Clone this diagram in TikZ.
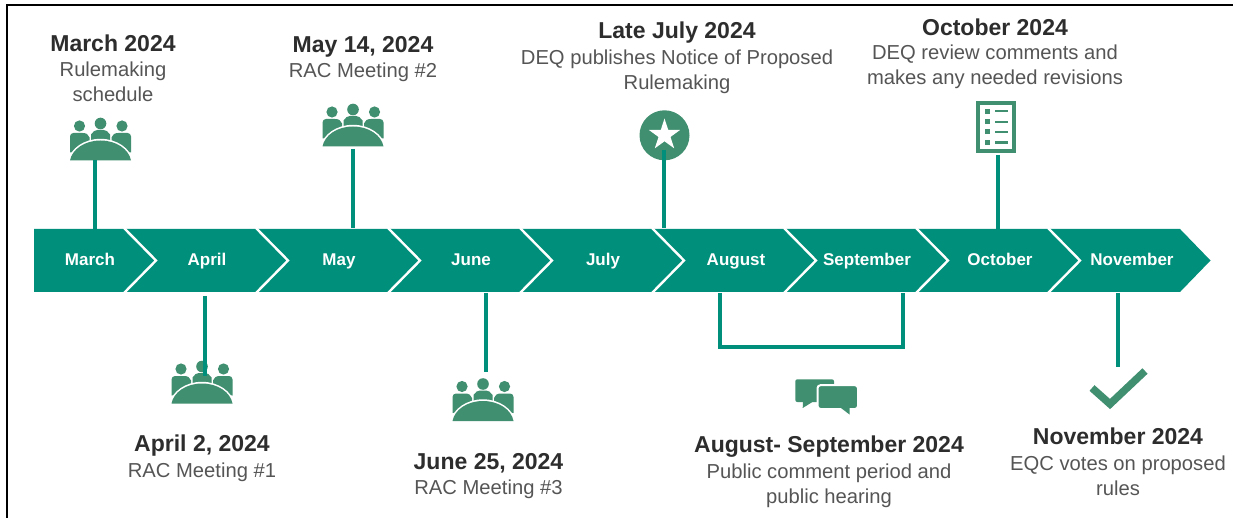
\documentclass[tikz,border=0pt]{standalone}
\usepackage{fontspec}
\setmainfont{Liberation Sans}
\usetikzlibrary{shapes.geometric}
\definecolor{barcol}{RGB}{0,143,122}
\definecolor{iconcol}{RGB}{64,143,112}
\definecolor{titlecol}{RGB}{45,45,45}
\definecolor{bodycol}{RGB}{85,85,85}
\tikzset{
  x=1pt,y=-1pt,
  titletext/.style={font=\bfseries\fontsize{23}{26}\selectfont,text=titlecol,inner sep=0pt},
  bodytext/.style={font=\fontsize{20.2}{25}\selectfont,text=bodycol,align=center,inner sep=0pt},
  monthtext/.style={font=\bfseries\fontsize{17}{20}\selectfont,text=white,inner sep=0pt,anchor=base},
  stem/.style={draw=barcol,line width=4.2pt},
  iconfill/.style={fill=iconcol,draw=none},
  sep/.style={draw=white,line width=2.4pt,line join=miter},
  meeting/.pic={
    \fill[iconfill] (-21,-34.5) circle (5.6);
    \fill[iconfill] (0,-37) circle (5.8);
    \fill[iconfill] (21.5,-34.5) circle (5.6);
    \fill[iconfill] (-30.5,-8) -- (-30.5,-24) .. controls (-30.5,-26) and (-29,-27.5) .. (-27,-27.5)
       -- (-18,-27.5) .. controls (-14,-27.5) and (-12,-26) .. (-11,-23) -- (-11,-10) -- cycle;
    \fill[iconfill] (30.5,-8) -- (30.5,-24) .. controls (30.5,-26) and (29,-27.5) .. (27,-27.5)
       -- (18,-27.5) .. controls (14,-27.5) and (12,-26) .. (11,-23) -- (11,-10) -- cycle;
    \fill[iconfill] (-9.5,-20) -- (-9.5,-26) .. controls (-8,-29) and (-5,-30.5) .. (-3,-30.5) -- (3,-30.5)
       .. controls (5,-30.5) and (8,-29) .. (9.5,-26) -- (9.5,-20) -- cycle;
    \path[fill=white,draw=white,line width=2.4pt] (-31,0) .. controls (-29,-11) and (-16,-20.5) .. (0,-20.5)
       .. controls (16,-20.5) and (29,-11) .. (31,0) -- cycle;
    \fill[iconfill] (-30.5,0) .. controls (-28.5,-11) and (-16,-20) .. (0,-20)
       .. controls (16,-20) and (28.5,-11) .. (30.5,0) -- cycle;
  }
}
\begin{document}
\begin{tikzpicture}
\useasboundingbox (0,0) rectangle (1233,518);
\fill[white] (0,0) rectangle (1233,518);
% frame
\draw[black,line width=2.4pt] (1233,5) -- (7,5) -- (7,518);

% named anchors
\coordinate (barTL) at (34,229);
\coordinate (barTR) at (1180,229);
\coordinate (barTip) at (1210.5,260.5);
\coordinate (barBR) at (1180,292);
\coordinate (barBL) at (34,292);

% ribbon
\fill[barcol] (barTL) -- (barTR) -- (barTip) -- (barBR) -- (barBL) -- cycle;
\foreach \t in {156,288,420,552,684,816,948,1080}{
  \draw[sep] (\t-32,228) -- (\t,260.5) -- (\t-32,293);
}

% month labels
\node[monthtext] (mMar) at (90,266) {March};
\node[monthtext] (mApr) at (207,266) {April};
\node[monthtext] (mMay) at (339,266) {May};
\node[monthtext] (mJun) at (471,266) {June};
\node[monthtext] (mJul) at (603,266) {July};
\node[monthtext] (mAug) at (736,266) {August};
\node[monthtext] (mSep) at (867,266) {September};
\node[monthtext] (mOct) at (1000,266) {October};
\node[monthtext] (mNov) at (1132,266) {November};

% icons
\pic at (100.5,160.5) {meeting};
\pic at (353,146.5) {meeting};
\pic at (202,403.5) {meeting};
\pic at (483,421) {meeting};

\node[circle,fill=iconcol,minimum size=50pt,inner sep=0pt] (starDisc) at (664.5,135.3) {};
\node[star,star points=5,star point ratio=2.618,fill=white,minimum size=33pt,inner sep=0pt] (starMark) at (664.5,135) {};

\node[rectangle,draw=iconcol,line width=4pt,fill=white,minimum width=36.5pt,minimum height=48.5pt,inner sep=0pt] (docBox) at (996,127) {};
\foreach \yy in {111.3,122,132,142.5}{
  \fill[iconfill] (984.5,\yy-2.5) rectangle (989.5,\yy+2.5);
  \fill[iconfill] (994.5,\yy-1.1) rectangle (1007.5,\yy+1.1);
}

% speech bubbles
\fill[iconfill,rounded corners=2pt] (795.3,379.3) rectangle (834,402);
\fill[iconfill] (803,401) -- (802.7,408) -- (814,401) -- cycle;
\path[fill=iconcol,draw=white,line width=2pt,rounded corners=3pt] (817.5,385.2) rectangle (858,409);
\fill[iconfill] (841,408) -- (849.5,414.5) -- (849.5,408) -- cycle;

% check mark
\coordinate (chkA) at (1092,388);
\coordinate (chkB) at (1110,404);
\coordinate (chkC) at (1145,371);
\draw[iconcol,line width=7.5pt,line join=miter] (chkA) -- (chkB) -- (chkC);

% connectors
\coordinate (sMarA) at (95,160);  \coordinate (sMarB) at (95,229);
\coordinate (sMayA) at (353,149); \coordinate (sMayB) at (353,228);
\coordinate (sJulA) at (664,150); \coordinate (sJulB) at (664,228);
\coordinate (sOctA) at (998,155); \coordinate (sOctB) at (998,229);
\coordinate (sAprA) at (205,296); \coordinate (sAprB) at (205,376);
\coordinate (sJunA) at (486,293); \coordinate (sJunB) at (486,372);
\coordinate (sNovA) at (1118,293);\coordinate (sNovB) at (1118,367);
\coordinate (brL) at (720,293);   \coordinate (brLL) at (720,347);
\coordinate (brRR) at (903,347);  \coordinate (brR) at (903,293);
\draw[stem] (sMarA) -- (sMarB);
\draw[stem] (sMayA) -- (sMayB);
\draw[stem] (sJulA) -- (sJulB);
\draw[stem] (sOctA) -- (sOctB);
\draw[stem] (sAprA) -- (sAprB);
\draw[stem] (sJunA) -- (sJunB);
\draw[stem] (sNovA) -- (sNovB);
\draw[stem,line join=miter] (brL) -- (brLL) -- (brRR) -- (brR);

% texts
\node[titletext] (t1) at (113,43.5) {March 2024};
\node[bodytext] (b1) at (113,82) {Rulemaking\\schedule};
\node[titletext] (t2) at (363,47) {May 14, 2024};
\node[bodytext] (b2) at (363,72.5) {RAC Meeting \#2};
\node[titletext] (t3) at (677,33) {Late July 2024};
\node[bodytext] (b3) at (677,72) {DEQ publishes Notice of Proposed\\Rulemaking};
\node[titletext] (t4) at (995,27.5) {October 2024};
\node[bodytext] (b4) at (995,66.5) {DEQ review comments and\\makes any needed revisions};
\node[titletext] (t5) at (202,446) {April 2, 2024};
\node[bodytext] (b5) at (202,472) {RAC Meeting \#1};
\node[titletext] (t6) at (488.5,463) {June 25, 2024};
\node[bodytext] (b6) at (488.5,489) {RAC Meeting \#3};
\node[titletext] (t7) at (829,447) {August- September 2024};
\node[bodytext] (b7) at (829,485.5) {Public comment period and\\public hearing};
\node[titletext] (t8) at (1118,436.5) {November 2024};
\node[bodytext] (b8) at (1118,476) {EQC votes on proposed\\rules};
\end{tikzpicture}
\end{document}
